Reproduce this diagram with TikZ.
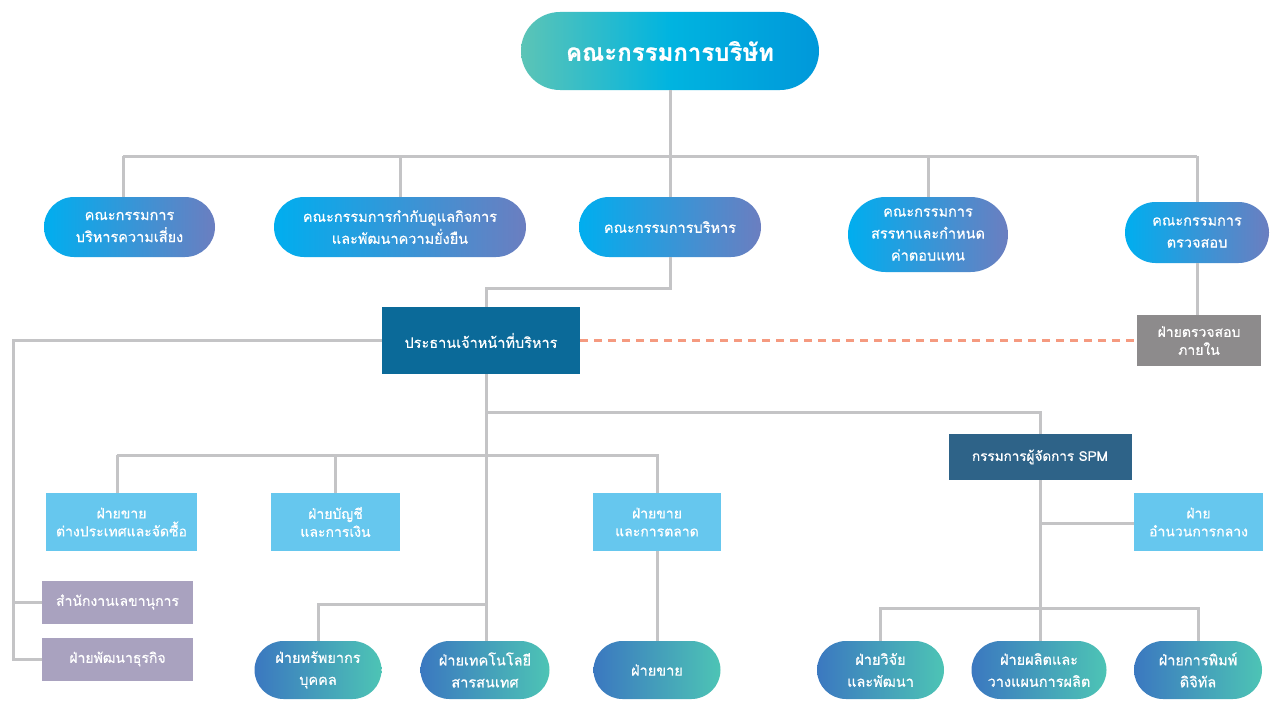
\documentclass[tikz,border=0pt]{standalone}
\usepackage{fontspec}
\newfontfamily\thai[Script=Thai, FakeBold=0.6]{Loma}
\usetikzlibrary{shapes.misc}
\definecolor{lineC}{HTML}{C4C4C6}
\definecolor{dashC}{HTML}{F59A80}
\definecolor{topL}{HTML}{5CC4B6}
\definecolor{topM}{HTML}{00B4E0}
\definecolor{topR}{HTML}{0098DA}
\definecolor{twoL}{HTML}{00AEEF}
\definecolor{twoR}{HTML}{6B7EC0}
\definecolor{botL}{HTML}{3B78C0}
\definecolor{botR}{HTML}{4DC4B5}
\definecolor{ceoC}{HTML}{0B6A99}
\definecolor{spmC}{HTML}{2E6388}
\definecolor{lbC}{HTML}{66C7EE}
\definecolor{purC}{HTML}{A9A2BF}
\definecolor{gryC}{HTML}{8D8B8C}
\tikzset{
  base/.style={text=white, align=center, inner sep=0pt},
  titlepill/.style={base, rounded rectangle, left color=topL, right color=topR, middle color=topM,
     font={\thai\bfseries\fontsize{24}{28}\selectfont}},
  pilltwo/.style={base, rounded rectangle, left color=twoL, right color=twoR,
     font={\thai\fontsize{14.5}{22}\selectfont}},
  pillbot/.style={base, rounded rectangle, left color=botL, right color=botR,
     font={\thai\fontsize{14.5}{22}\selectfont}},
  boxceo/.style={base, rectangle, fill=ceoC, font={\thai\fontsize{14.5}{20}\selectfont}},
  boxspm/.style={base, rectangle, fill=spmC, font={\thai\fontsize{13.5}{18}\selectfont}},
  boxlb/.style={base, rectangle, fill=lbC, font={\thai\fontsize{14}{18}\selectfont}},
  boxpur/.style={base, rectangle, fill=purC, font={\thai\fontsize{14}{18}\selectfont}},
  boxgry/.style={base, rectangle, fill=gryC, font={\thai\fontsize{14}{18}\selectfont}},
  conn/.style={draw=lineC, line width=3pt},
  dashconn/.style={draw=dashC, line width=2.5pt, dash pattern=on 8pt off 6pt},
}
\begin{document}
\begin{tikzpicture}[x=1pt,y=-1pt]
\useasboundingbox[fill=white] (0,0) rectangle (1277,701);
% coordinates
\coordinate (b1) at (123,156);
\coordinate (b5) at (1197,156);
\coordinate (k1) at (486,288);
\coordinate (lx) at (13,340.5);
\coordinate (j1) at (486,412);
\coordinate (j2) at (486,455);
\coordinate (j3) at (486,604);
\coordinate (f1) at (117,455);
\coordinate (s1) at (1040,523);
\coordinate (s2) at (1040,608);
% nodes
\node[titlepill, minimum width=298pt, minimum height=78pt] (top) at (670,51) {คณะกรรมการบริษัท};
\node[pilltwo, minimum width=171pt, minimum height=60pt] (r1) at (129.5,227) {คณะกรรมการ\\บริหารความเสี่ยง};
\node[pilltwo, minimum width=252pt, minimum height=60pt] (r2) at (400,227) {คณะกรรมการกำกับดูแลกิจการ\\และพัฒนาความยั่งยืน};
\node[pilltwo, minimum width=182pt, minimum height=60pt] (r3) at (670,227) {คณะกรรมการบริหาร};
\node[pilltwo, minimum width=160pt, minimum height=75pt] (r4) at (928,234.5) {คณะกรรมการ\\สรรหาและกำหนด\\ค่าตอบแทน};
\node[pilltwo, minimum width=144pt, minimum height=61pt] (r5) at (1197,232.5) {คณะกรรมการ\\ตรวจสอบ};
\node[boxceo, minimum width=198pt, minimum height=67pt] (ceo) at (481,340.5) {ประธานเจ้าหน้าที่บริหาร};
\node[boxgry, minimum width=124pt, minimum height=51pt] (ia) at (1199,340.5) {ฝ่ายตรวจสอบ\\ภายใน};
\node[boxpur, minimum width=151pt, minimum height=43pt] (sec) at (117.5,602) {สำนักงานเลขานุการ};
\node[boxpur, minimum width=151pt, minimum height=43pt] (bd) at (117.5,659) {ฝ่ายพัฒนาธุรกิจ};
\node[boxlb, minimum width=151pt, minimum height=58pt] (fs) at (121.5,522) {ฝ่ายขาย\\ต่างประเทศและจัดซื้อ};
\node[boxlb, minimum width=129pt, minimum height=58pt] (ac) at (335.5,522) {ฝ่ายบัญชี\\และการเงิน};
\node[boxlb, minimum width=128pt, minimum height=58pt] (mk) at (657,522) {ฝ่ายขาย\\และการตลาด};
\node[boxspm, minimum width=183pt, minimum height=46pt] (spm) at (1040,457) {กรรมการผู้จัดการ SPM};
\node[boxlb, minimum width=129pt, minimum height=58pt] (gen) at (1198.5,522) {ฝ่าย\\อำนวนการกลาง};
\node[pillbot, minimum width=127pt, minimum height=58pt] (hr) at (318,670) {ฝ่ายทรัพยากร\\บุคคล};
\node[pillbot, minimum width=129pt, minimum height=58pt] (it) at (485,670) {ฝ่ายเทคโนโลยี\\สารสนเทศ};
\node[pillbot, minimum width=127pt, minimum height=58pt] (sale) at (657,670) {ฝ่ายขาย};
\node[pillbot, minimum width=127pt, minimum height=58pt] (rd) at (880.5,670) {ฝ่ายวิจัย\\และพัฒนา};
\node[pillbot, minimum width=135pt, minimum height=58pt] (pr) at (1039,670) {ฝ่ายผลิตและ\\วางแผนการผลิต};
\node[pillbot, minimum width=128pt, minimum height=58pt] (dg) at (1198,670) {ฝ่ายการพิมพ์\\ดิจิทัล};
% connectors
\draw[conn] (top.south) -- (top.south |- b1);
\draw[conn] (b1) -- (b5);
\draw[conn] (b1) -- (b1 |- r1.north);
\draw[conn] (r2.north) -- (r2.north |- b1);
\draw[conn] (r3.north) -- (r3.north |- b1);
\draw[conn] (r4.north) -- (r4.north |- b1);
\draw[conn] (r5.north) -- (r5.north |- b1);
\draw[conn] (r3.south) |- (k1) -- (k1 |- ceo.north);
\draw[conn] (r5.south) -- (r5.south |- ia.north);
\draw[dashconn] (ceo.east) -- (ia.west);
\draw[conn] (ceo.west) -- (lx) |- (bd.west);
\draw[conn] (lx |- sec.west) -- (sec.west);
\draw[conn] (ceo.south -| j1) -- (j1 |- it.north);
\draw[conn] (j1) -| (spm.north);
\draw[conn] (f1) -- (f1 |- fs.north);
\draw[conn] (f1) -- (j2) -| (mk.north);
\draw[conn] (ac.north) -- (ac.north |- j2);
\draw[conn] (mk.south) -- (sale.north);
\draw[conn] (hr.north) |- (j3);
\draw[conn] (spm.south) -- (spm.south |- pr.north);
\draw[conn] (s1) -- (s1 -| gen.west);
\draw[conn] (rd.north) |- (s2) -| (dg.north);
\end{tikzpicture}
\end{document}
